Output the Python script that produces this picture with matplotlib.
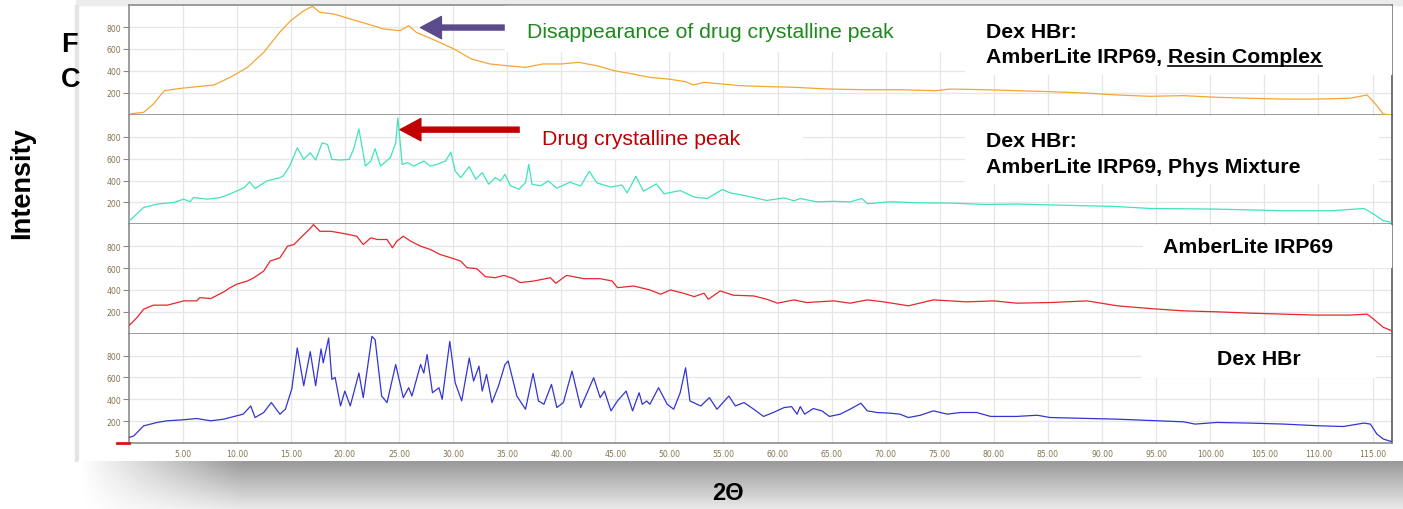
import numpy as np
import matplotlib
matplotlib.use("Agg")
import matplotlib.pyplot as plt
from matplotlib.patches import Rectangle
from matplotlib.lines import Line2D

# ---------------- data ----------------
two_theta_resin = [0.0, 1.4, 2.3, 3.3, 4.8, 6.7, 7.9, 9.4, 11.0, 12.5, 14.0, 15.0, 16.2, 17.0,
                   17.7, 19.0, 20.5, 22.1, 23.6, 25.1, 25.9, 26.6, 28.4, 30.1, 31.7, 33.4, 35.0,
                   36.7, 38.3, 40.0, 41.6, 43.3, 44.9, 46.6, 48.2, 49.9, 51.5, 52.2, 53.2, 54.8,
                   56.5, 58.1, 61.5, 64.7, 68.0, 71.3, 74.6, 76.0, 79.1, 82.1, 85.2, 88.3, 91.4,
                   94.4, 97.5, 100.6, 103.7, 106.7, 109.8, 112.9, 114.5, 115.4, 116.0, 116.8]
intensity_resin = [9, 24, 100, 221, 242, 261, 273, 342, 433, 570, 755, 858, 948, 988,
                   933, 918, 873, 827, 782, 767, 812, 752, 676, 600, 509, 464, 448,
                   433, 464, 464, 479, 448, 403, 373, 342, 327, 303, 273, 297, 282,
                   267, 261, 252, 236, 230, 230, 221, 236, 230, 221, 212, 200, 182,
                   170, 176, 161, 152, 145, 145, 152, 182, 85, 9, 0]

two_theta_mix = [0.1, 1.4, 2.65, 4.2, 5.1, 5.7, 6.0, 7.3, 8.5, 9.1, 9.7, 10.7, 11.2, 11.7, 12.8,
                 14.0, 14.3, 14.9, 15.6, 16.2, 16.8, 17.3, 17.9, 18.4, 18.8, 19.6, 20.4, 20.8,
                 21.3, 21.9, 22.4, 22.8, 23.3, 24.2, 24.7, 24.9, 25.3, 25.8, 26.4, 27.3, 27.9,
                 28.5, 29.3, 29.8, 30.2, 30.7, 31.5, 32.1, 32.7, 33.3, 33.9, 34.4, 34.8, 35.3,
                 36.1, 36.7, 37.0, 37.3, 38.1, 38.8, 39.6, 40.8, 41.8, 42.6, 43.3, 44.6, 45.6,
                 46.1, 46.9, 47.6, 48.8, 49.5, 51.0, 52.3, 53.5, 54.9, 55.6, 57.2, 59.0, 60.6,
                 61.5, 62.1, 63.6, 65.2, 66.7, 67.8, 68.3, 70.4, 72.9, 76.0, 79.1, 82.1, 88.3,
                 91.1, 94.4, 100.6, 106.7, 111.3, 114.2, 115.1, 116.0, 116.8]
intensity_mix = [33, 154, 185, 200, 230, 206, 245, 230, 245, 267, 291, 336, 388, 327, 397,
                 427, 442, 533, 700, 594, 654, 588, 745, 730, 594, 588, 594, 685,
                 873, 533, 579, 691, 533, 609, 745, 973, 548, 564, 533, 579, 533,
                 548, 579, 661, 488, 427, 527, 412, 473, 367, 427, 397, 458, 352,
                 321, 382, 548, 367, 352, 397, 330, 385, 350, 485, 379, 340, 360,
                 288, 439, 303, 370, 279, 309, 248, 236, 318, 288, 258, 218, 242,
                 215, 236, 206, 210, 205, 236, 188, 206, 197, 194, 182, 185, 170,
                 164, 145, 139, 124, 124, 145, 94, 33, 18]

two_theta_resin_only = [0.1, 0.8, 1.4, 2.3, 3.6, 5.1, 6.3, 6.6, 7.6, 8.8, 9.4, 10.0, 11.0, 11.6,
                        12.5, 13.1, 14.0, 14.7, 15.3, 15.9, 16.7, 17.1, 17.7, 18.7, 19.6, 20.4,
                        21.1, 21.7, 22.4, 23.0, 23.9, 24.4, 24.8, 25.4, 26.1, 27.0, 27.9, 28.8,
                        29.8, 30.7, 31.3, 32.2, 33.0, 33.9, 34.7, 35.6, 36.2, 37.5, 39.0, 39.5,
                        40.5, 42.1, 43.6, 44.7, 45.2, 46.7, 48.2, 49.2, 50.1, 51.3, 52.3, 53.2,
                        53.6, 54.7, 55.9, 57.8, 59.0, 60.0, 61.5, 62.7, 65.2, 66.7, 68.3, 69.8,
                        72.1, 74.4, 77.5, 80.0, 82.1, 85.2, 88.6, 91.4, 94.4, 97.5, 100.6, 103.7,
                        106.7, 109.8, 112.9, 114.5, 115.1, 116.0, 116.8]
intensity_resin_only = [79, 149, 224, 261, 261, 300, 300, 330, 321, 382, 421, 452, 482, 512,
                        573, 664, 694, 800, 815, 876, 952, 997, 936, 936, 921, 906,
                        891, 815, 876, 861, 861, 785, 845, 891, 845, 800, 770, 724,
                        694, 664, 603, 594, 521, 512, 533, 503, 467, 482, 512, 461,
                        533, 503, 503, 482, 421, 436, 400, 361, 400, 370, 339, 370,
                        315, 391, 352, 345, 315, 279, 309, 285, 300, 279, 309, 291,
                        255, 309, 291, 300, 279, 285, 300, 255, 230, 209, 200, 188,
                        179, 170, 170, 179, 133, 58, 27]

two_theta_dex = [0.1, 0.5, 1.4, 2.65, 3.57, 5.0, 6.3, 7.6, 8.8, 10.0, 10.6, 11.3, 11.7, 12.5,
                 13.2, 14.0, 14.5, 15.1, 15.6, 16.2, 16.8, 17.3, 17.8, 18.0, 18.5, 18.8, 19.1,
                 19.6, 20.0, 20.5, 21.3, 21.7, 22.5, 22.8, 23.4, 23.9, 24.7, 25.4, 25.9, 26.2,
                 27.0, 27.3, 27.6, 28.1, 28.7, 29.0, 29.7, 30.2, 30.8, 31.5, 31.9, 32.4, 32.7,
                 33.1, 33.6, 34.2, 34.8, 35.1, 35.9, 36.7, 37.4, 37.9, 38.4, 39.1, 39.6, 40.2,
                 41.0, 41.8, 42.6, 43.0, 43.6, 44.0, 44.6, 45.2, 46.0, 46.6, 47.2, 47.5, 47.9,
                 48.2, 49.0, 49.8, 50.4, 51.0, 51.5, 51.9, 52.9, 53.7, 54.4, 55.5, 56.1, 56.9,
                 57.8, 58.7, 59.6, 60.6, 61.3, 61.8, 62.1, 62.5, 63.3, 64.1, 64.8, 65.8, 66.7,
                 67.7, 68.3, 69.2, 70.4, 71.3, 72.1, 73.2, 74.4, 75.7, 76.9, 78.4, 79.7, 82.1,
                 84.0, 85.2, 88.9, 91.4, 95.1, 97.5, 98.6, 100.6, 103.7, 106.8, 109.9, 112.3,
                 114.2, 114.8, 115.4, 116.0, 116.8]
intensity_dex = [52, 66, 157, 188, 203, 212, 224, 203, 218, 248, 264, 339, 233, 279,
                 370, 264, 309, 497, 870, 524, 836, 524, 861, 733, 960, 582, 600,
                 339, 475, 339, 640, 415, 975, 945, 430, 370, 718, 415, 506, 430,
                 718, 640, 809, 460, 506, 400, 930, 551, 385, 778, 567, 703, 475,
                 627, 370, 521, 718, 750, 430, 309, 636, 385, 354, 536, 324, 370,
                 658, 324, 506, 597, 415, 475, 294, 385, 475, 294, 460, 354, 385,
                 354, 506, 354, 309, 460, 688, 385, 339, 415, 309, 430, 339, 370,
                 309, 243, 279, 324, 333, 264, 333, 264, 315, 294, 243, 264, 309,
                 364, 294, 279, 273, 264, 233, 254, 294, 264, 279, 279, 243, 243,
                 254, 233, 224, 218, 203, 194, 173, 188, 182, 173, 158, 151,
                 182, 173, 82, 36, 12]

panel_labels = [["Dex HBr:", "AmberLite IRP69, Resin Complex"],
                ["Dex HBr:", "AmberLite IRP69, Phys Mixture"],
                ["AmberLite IRP69"],
                ["Dex HBr"]]
y_ticks = [200, 400, 600, 800]
x_ticks = list(range(5, 120, 5))
x_tick_labels = [f"{v:.2f}" for v in x_ticks]

series = [(two_theta_resin, intensity_resin, "#f4a633"),
          (two_theta_mix, intensity_mix, "#3fe3bd"),
          (two_theta_resin_only, intensity_resin_only, "#e8262b"),
          (two_theta_dex, intensity_dex, "#3434d2")]

# ---------------- layout ----------------
W, H = 1403, 510
fig = plt.figure(figsize=(W / 100, H / 100), dpi=100)
fig.patch.set_facecolor("white")


def fx(px):
    return px / W


def fy(py):
    return 1 - py / H


BOLD = dict(family=["Liberation Sans", "DejaVu Sans"], weight="bold", color="black")
REG = dict(family=["Liberation Sans", "DejaVu Sans"])

# frame decorations (top strip, left edge, bottom shadow)
fig.patches.append(Rectangle((fx(76), fy(6)), fx(1403) - fx(76), 6 / H,
                             transform=fig.transFigure, color="#ececec", zorder=-5))
fig.patches.append(Rectangle((fx(75), fy(462)), 3 / W, 456 / H,
                             transform=fig.transFigure, color="#e4e4e4", zorder=-5))
sh = fig.add_axes([fx(78), 0, fx(1403) - fx(78), (510 - 462) / H], zorder=-4)
rows = np.linspace(0, 1, 48)[:, None]
cols = np.arange(78, 1403)[None, :]
base = 0.60 + 0.31 * rows
wfade = np.clip((cols - 80) / 160.0, 0, 1)
shade = 1 - (1 - base) * wfade
sh.imshow(shade, cmap="gray", vmin=0, vmax=1, aspect="auto", interpolation="bilinear")
sh.axis("off")

panels = [(6, 116), (116, 225.3), (225.3, 334.7), (334.7, 444)]
axes = []
for i, ((top, bot), (xs, ys, col)) in enumerate(zip(panels, series)):
    ax = fig.add_axes([fx(128.5), fy(bot), fx(1392) - fx(128.5), (bot - top) / H])
    ax.set_xlim(0, 116.8)
    ax.set_ylim(0, 1000)
    ax.plot(xs, ys, color=col, lw=0.9, zorder=3)
    ax.set_xticks(x_ticks)
    ax.set_yticks(y_ticks)
    ax.set_yticklabels([str(v) for v in y_ticks])
    ax.grid(True, color="#e6e6e6", lw=0.9, zorder=0)
    ax.tick_params(axis="y", length=4, width=0.8, color="#8a8a8a", pad=1.5,
                   labelsize=5.6, labelcolor="#857650")
    if i < 3:
        ax.tick_params(axis="x", length=0, labelbottom=False)
    else:
        ax.set_xticklabels(x_tick_labels)
        ax.tick_params(axis="x", length=0, pad=4.5, labelsize=5.6, labelcolor="#857650")
    for s in ["left", "bottom"]:
        ax.spines[s].set_color("#8c8c8c")
        ax.spines[s].set_linewidth(1.2)
    ax.spines["right"].set_color("#5a5a5a")
    ax.spines["right"].set_linewidth(1.2)
    if i == 0:
        ax.spines["top"].set_color("#8c8c8c")
        ax.spines["top"].set_linewidth(1.2)
    else:
        ax.spines["top"].set_visible(False)
    axes.append(ax)

# small red marker at the origin of the bottom axis
fig.lines.append(Line2D([fx(117), fx(129)], [fy(444), fy(444)], transform=fig.transFigure,
                        color="#e01010", lw=2.0, zorder=2))

# white label boxes
boxes = [(965, 7, 1391, 75), (505, 7, 965, 52), (965, 117, 1378, 184),
         (520, 117, 802, 159), (1143, 226, 1391, 268), (1142, 336, 1375, 378)]
for x0, y0, x1, y1 in boxes:
    fig.patches.append(Rectangle((fx(x0), fy(y1)), fx(x1) - fx(x0), (y1 - y0) / H,
                                 transform=fig.transFigure, color="white", zorder=1))

FS = 15.3
fig.text(fx(986), fy(37.5), panel_labels[0][0], fontsize=FS, va="baseline", **BOLD)
t_resin = fig.text(fx(986), fy(63.3), panel_labels[0][1], fontsize=FS, va="baseline", **BOLD)
fig.text(fx(986), fy(147.3), panel_labels[1][0], fontsize=FS, va="baseline", **BOLD)
fig.text(fx(986), fy(173.3), panel_labels[1][1], fontsize=FS, va="baseline", **BOLD)
fig.text(fx(1163), fy(253.3), panel_labels[2][0], fontsize=FS, va="baseline", **BOLD)
fig.text(fx(1217), fy(365), panel_labels[3][0], fontsize=FS, va="baseline", **BOLD)

# underline "Resin Complex"
fig.canvas.draw()
r = fig.canvas.get_renderer()
full_bb = t_resin.get_window_extent(r)
tmp = fig.text(0, 0, "Resin Complex", fontsize=FS, **BOLD)
rc_w = tmp.get_window_extent(r).width
tmp.remove()
x_end = full_bb.x1
x_start = x_end - rc_w
fig.lines.append(Line2D([x_start / W, x_end / W], [fy(66.6), fy(66.6)], transform=fig.transFigure,
                        color="black", lw=1.2, zorder=4))

# annotations
fig.text(fx(527), fy(37.5), "Disappearance of drug crystalline peak", fontsize=FS,
         color="#1e8a1e", va="baseline", **REG)
fig.text(fx(541.5), fy(145.3), "Drug crystalline peak", fontsize=FS,
         color="#c00000", va="baseline", **REG)
axes[0].annotate("", xy=(27.0, 795), xytext=(35.0, 795),
                 arrowprops=dict(arrowstyle="simple,head_length=15,head_width=16,tail_width=3.6",
                                 mutation_scale=1, color="#5b4a8c", shrinkA=0, shrinkB=0),
                 annotation_clip=False)
axes[1].annotate("", xy=(25.1, 866), xytext=(36.7, 866),
                 arrowprops=dict(arrowstyle="simple,head_length=15,head_width=16,tail_width=3.6",
                                 mutation_scale=1, color="#c00000", shrinkA=0, shrinkB=0),
                 annotation_clip=False)

# outer texts
fig.text(fx(61), fy(52), "F", fontsize=19.5, va="baseline", **BOLD)
fig.text(fx(61), fy(87), "C", fontsize=19.5, va="baseline", **BOLD)
fig.text(fx(22), fy(183), "Intensity", fontsize=19.5, rotation=90, ha="center", va="center", **BOLD)
fig.text(fx(728), fy(494), "2Θ", fontsize=17, ha="center", va="center", **BOLD)

fig.savefig("out.png", dpi=100)
